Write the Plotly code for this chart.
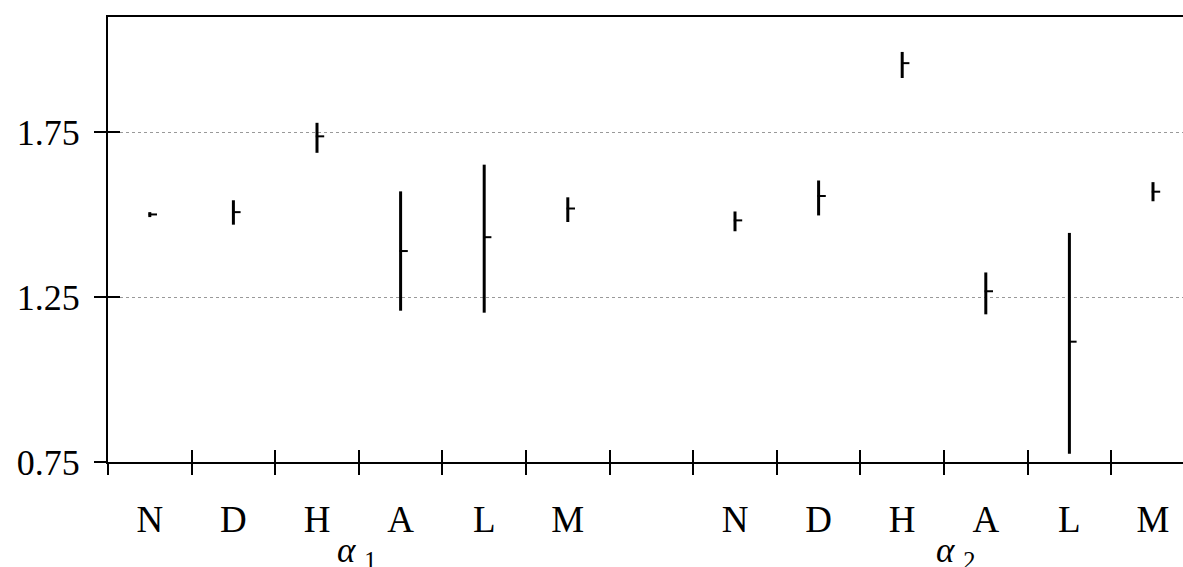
import plotly.graph_objects as go

# ---- data ----
groups = ["α1", "α2"]
categories = ["N", "D", "H", "A", "L", "M"]
# α1 series
a1_mean = [1.501, 1.508, 1.738, 1.390, 1.432, 1.519]
a1_high = [1.508, 1.544, 1.779, 1.571, 1.652, 1.553]
a1_low = [1.493, 1.470, 1.688, 1.209, 1.203, 1.478]
# α2 series
a2_mean = [1.483, 1.557, 1.960, 1.268, 1.115, 1.570]
a2_high = [1.510, 1.604, 1.994, 1.325, 1.445, 1.599]
a2_low = [1.450, 1.498, 1.915, 1.198, 0.775, 1.541]
y_ticks = [0.75, 1.25, 1.75]
y_tick_text = ["0.75", "1.25", "1.75"]

# ---- layout geometry ----
W, H = 1183, 567
ML, MR, MT, MB = 108, 0, 17, 105
n_slots = len(categories) * 2 + 1  # one empty slot between groups
x_lo = -0.5
ppu = 83.6  # pixels per slot
x_hi = x_lo + (W - ML - MR) / ppu
y_range = [0.75, 2.1]

pos1 = list(range(len(categories)))
pos2 = [len(categories) + 1 + i for i in range(len(categories))]
positions = pos1 + pos2
labels = categories + categories
boundaries = [i - 0.5 for i in range(n_slots)]

means = a1_mean + a2_mean
highs = a1_high + a2_high
lows = a1_low + a2_low
err_plus = [h - m for h, m in zip(highs, means)]
err_minus = [m - l for m, l in zip(means, lows)]

FONT = "Liberation Serif"

fig = go.Figure()
# vertical bars (error bars, no caps)
fig.add_trace(go.Scatter(
    x=positions, y=means, mode="markers",
    marker=dict(size=1, color="rgba(0,0,0,0)"),
    error_y=dict(type="data", symmetric=False, array=err_plus, arrayminus=err_minus,
                 width=0, thickness=3, color="black"),
    showlegend=False, hoverinfo="skip", xaxis="x", yaxis="y"))
# mean ticks, drawn on a slightly shifted overlay x-axis so they sit right of the bar
shift = 3 / ppu
fig.add_trace(go.Scatter(
    x=positions, y=means, mode="markers",
    marker=dict(symbol="line-ew", size=6, line=dict(width=2, color="black")),
    showlegend=False, hoverinfo="skip", xaxis="x4", yaxis="y"))
# invisible anchors so that the tick-only overlay axes get drawn
for xa, ya in [("x2", "y"), ("x3", "y"), ("x", "y2")]:
    fig.add_trace(go.Scatter(x=[positions[0]], y=[means[0]], mode="markers",
                             marker=dict(size=1, color="rgba(0,0,0,0)"),
                             showlegend=False, hoverinfo="skip", xaxis=xa, yaxis=ya))

common = dict(automargin=False, showgrid=False, zeroline=False)
fig.update_layout(
    width=W, height=H,
    margin=dict(l=ML, r=MR, t=MT, b=MB, pad=0, autoexpand=False),
    paper_bgcolor="white", plot_bgcolor="white",
    font=dict(family=FONT, size=36, color="black"),
    xaxis=dict(range=[x_lo, x_hi], tickmode="array", tickvals=positions, ticktext=labels,
               ticks="outside", ticklen=24, tickcolor="rgba(0,0,0,0)",
               showline=True, linecolor="black", linewidth=2, mirror=True,
               tickfont=dict(family=FONT, size=37, color="black"), **common),
    xaxis2=dict(range=[x_lo, x_hi], overlaying="x", tickmode="array", tickvals=boundaries,
                ticks="outside", ticklen=12, tickwidth=1.5, tickcolor="black",
                showticklabels=False, showline=False, **common),
    xaxis3=dict(range=[x_lo, x_hi], overlaying="x", tickmode="array", tickvals=boundaries,
                ticks="inside", ticklen=12, tickwidth=1.5, tickcolor="black",
                showticklabels=False, showline=False, **common),
    xaxis4=dict(range=[x_lo - shift, x_hi - shift], overlaying="x", visible=False, **common),
    yaxis=dict(range=y_range, tickmode="array", tickvals=y_ticks, ticktext=y_tick_text,
               ticks="outside", ticklen=12, tickwidth=1.5, tickcolor="black",
               ticklabelstandoff=7,
               showline=True, linecolor="black", linewidth=2, mirror=False,
               showgrid=True, gridcolor="#999999", gridwidth=1, griddash="dot",
               zeroline=False, automargin=False,
               tickfont=dict(family=FONT, size=36, color="black")),
    yaxis2=dict(range=y_range, overlaying="y", tickmode="array", tickvals=y_ticks,
                ticks="inside", ticklen=12, tickwidth=1.5, tickcolor="black",
                showticklabels=False, showline=False, **common),
)

# group labels α1 / α2
group_x = [2.47, 9.64]
for gx, g in zip(group_x, groups):
    fig.add_annotation(x=gx, xref="x", y=0, yref="paper", yanchor="top", yshift=-67,
                       text="<i>α</i> <sub>" + g[1:] + "</sub>", showarrow=False,
                       font=dict(family=FONT, size=35, color="black"))

fig.write_html("out.html",
               config={"displayModeBar": False},
               post_script="document.body.style.margin='0';"
                           "document.body.style.overflow='hidden';")
